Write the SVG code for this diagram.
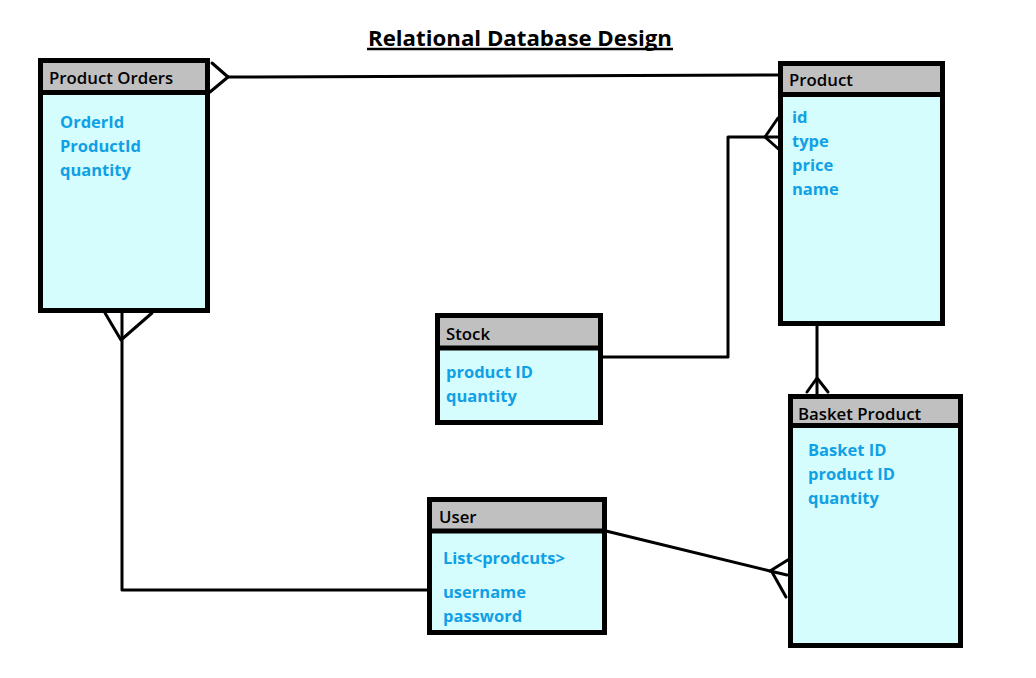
<svg xmlns="http://www.w3.org/2000/svg" width="1036" height="678" viewBox="0 0 1036 678">
<style>
.box{fill:#d5fdfd;stroke:#000;stroke-width:5}
.hdr{fill:#c0c0c0}
.div{stroke:#000;stroke-width:5}
.ht{font-family:"Open Sans","Liberation Sans",sans-serif;font-weight:600;font-size:16.8px;fill:#000}
.at{font-family:"Open Sans","Liberation Sans",sans-serif;font-weight:700;font-size:16.5px;fill:#10a0e6}
.title{font-family:"Open Sans","Liberation Sans",sans-serif;font-weight:700;font-size:21px;fill:#000}
.ln{fill:none;stroke:#000;stroke-width:3;stroke-linecap:round;stroke-linejoin:round}
</style>
<rect width="1036" height="678" fill="#fff"/>
<g id="title">
<text class="title" x="520" y="46" text-anchor="middle" textLength="304" lengthAdjust="spacingAndGlyphs">Relational Database Design</text>
<line x1="367" y1="49" x2="673" y2="49" stroke="#000" stroke-width="2.5"/>
</g>
<g id="connectors">
<path class="ln" d="M228,77 L780,75"/>
<path class="ln" d="M212,63 L228,77 L210,92"/>
<path class="ln" d="M603,357 L728,357 L728,137 L778,137"/>
<path class="ln" d="M778,118 L765,137 L783,153"/>
<path class="ln" d="M122,313 L122,590 L427,590"/>
<path class="ln" d="M105,313 L121,340 L152,313"/>
<path class="ln" d="M817,323 L817,394"/>
<path class="ln" d="M807,392 L817,378 L828,392"/>
<path class="ln" d="M606,531 L770,571"/>
<path class="ln" d="M791,558 L770,571 L787,575"/>
<path class="ln" d="M772,572 L786,597"/>
</g>
<g id="product-orders">
<rect class="box" x="40.5" y="60.5" width="167" height="250"/>
<rect class="hdr" x="43" y="63" width="162" height="28"/>
<line class="div" x1="40" y1="92.5" x2="208" y2="92.5"/>
<text class="ht" x="49" y="84">Product Orders</text>
<text class="at" x="60" y="128">OrderId</text>
<text class="at" x="60" y="152">ProductId</text>
<text class="at" x="60" y="176">quantity</text>
</g>
<g id="product">
<rect class="box" x="780.5" y="63.5" width="162" height="260"/>
<rect class="hdr" x="783" y="66" width="157" height="27"/>
<line class="div" x1="780" y1="94.5" x2="943" y2="94.5"/>
<text class="ht" x="789" y="86">Product</text>
<text class="at" x="792" y="123">id</text>
<text class="at" x="792" y="147">type</text>
<text class="at" x="792" y="171">price</text>
<text class="at" x="792" y="195">name</text>
</g>
<g id="stock">
<rect class="box" x="437.5" y="315.5" width="163" height="107"/>
<rect class="hdr" x="440" y="318" width="158" height="28"/>
<line class="div" x1="437" y1="348" x2="601" y2="348"/>
<text class="ht" x="446" y="340">Stock</text>
<text class="at" x="446" y="378">product ID</text>
<text class="at" x="446" y="402">quantity</text>
</g>
<g id="user">
<rect class="box" x="429.5" y="499.5" width="175" height="133"/>
<rect class="hdr" x="432" y="502" width="170" height="28"/>
<line class="div" x1="429" y1="531" x2="605" y2="531"/>
<text class="ht" x="439" y="523">User</text>
<text class="at" x="443" y="564">List&lt;prodcuts&gt;</text>
<text class="at" x="443" y="598">username</text>
<text class="at" x="443" y="622">password</text>
</g>
<g id="basket-product">
<rect class="box" x="790.5" y="396.5" width="170" height="249"/>
<rect class="hdr" x="793" y="399" width="165" height="25"/>
<line class="div" x1="790" y1="425.5" x2="963" y2="425.5"/>
<text class="ht" x="798" y="420">Basket Product</text>
<text class="at" x="808" y="456">Basket ID</text>
<text class="at" x="808" y="480">product ID</text>
<text class="at" x="808" y="504">quantity</text>
</g>
</svg>
